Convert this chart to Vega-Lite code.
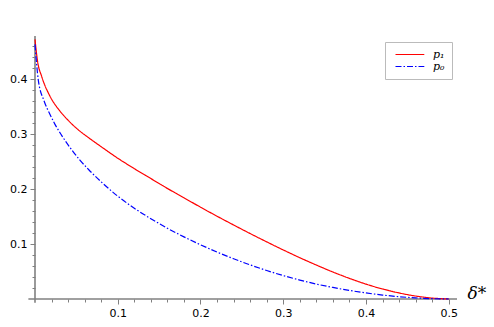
{
  "$schema": "https://vega.github.io/schema/vega-lite/v6.json",
  "width": 422,
  "height": 264,
  "autosize": "none",
  "padding": {"left": 35, "top": 35, "right": 37, "bottom": 28},
  "background": "white",
  "config": {
    "view": {"stroke": null},
    "legend": {
      "orient": "none", "legendX": 350, "legendY": 7,
      "symbolType": "M-3.6,0H3.6", "symbolSize": 64, "symbolStrokeWidth": 1.2, "symbolOffset": 12.4,
      "strokeColor": "#bbbbbb", "fillColor": "#ffffff", "padding": 7,
      "labelFont": "DejaVu Serif", "labelFontStyle": "italic", "labelFontSize": 11,
      "labelColor": "#000000", "rowPadding": 0, "labelOffset": 17.6
    },
    "axis": {
      "domain": false, "grid": false,
      "labelFont": "DejaVu Sans", "labelFontSize": 11, "labelColor": "#000000",
      "labelPadding": 3, "labelOverlap": false, "labelFlush": false,
      "tickColor": "#808080", "tickWidth": 1
    }
  },
  "resolve": {"axis": {"x": "independent", "y": "independent"}},
  "data": {"values": [
    {"x": 0.000, "y": 0.472, "series": "p₁"},
    {"x": 0.003, "y": 0.433, "series": "p₁"},
    {"x": 0.008, "y": 0.405, "series": "p₁"},
    {"x": 0.018, "y": 0.369, "series": "p₁"},
    {"x": 0.030, "y": 0.342, "series": "p₁"},
    {"x": 0.040, "y": 0.325, "series": "p₁"},
    {"x": 0.052, "y": 0.308, "series": "p₁"},
    {"x": 0.065, "y": 0.293, "series": "p₁"},
    {"x": 0.078, "y": 0.279, "series": "p₁"},
    {"x": 0.100, "y": 0.256, "series": "p₁"},
    {"x": 0.120, "y": 0.237, "series": "p₁"},
    {"x": 0.140, "y": 0.219, "series": "p₁"},
    {"x": 0.160, "y": 0.201, "series": "p₁"},
    {"x": 0.180, "y": 0.184, "series": "p₁"},
    {"x": 0.200, "y": 0.167, "series": "p₁"},
    {"x": 0.220, "y": 0.1505, "series": "p₁"},
    {"x": 0.240, "y": 0.1346, "series": "p₁"},
    {"x": 0.260, "y": 0.119, "series": "p₁"},
    {"x": 0.280, "y": 0.1039, "series": "p₁"},
    {"x": 0.300, "y": 0.0892, "series": "p₁"},
    {"x": 0.320, "y": 0.0751, "series": "p₁"},
    {"x": 0.340, "y": 0.0617, "series": "p₁"},
    {"x": 0.360, "y": 0.0491, "series": "p₁"},
    {"x": 0.380, "y": 0.0375, "series": "p₁"},
    {"x": 0.400, "y": 0.0271, "series": "p₁"},
    {"x": 0.420, "y": 0.0182, "series": "p₁"},
    {"x": 0.440, "y": 0.011, "series": "p₁"},
    {"x": 0.460, "y": 0.0054, "series": "p₁"},
    {"x": 0.480, "y": 0.0017, "series": "p₁"},
    {"x": 0.500, "y": 0.000, "series": "p₁"},
    {"x": 0.000, "y": 0.463, "series": "p₀"},
    {"x": 0.004, "y": 0.398, "series": "p₀"},
    {"x": 0.011, "y": 0.360, "series": "p₀"},
    {"x": 0.018, "y": 0.336, "series": "p₀"},
    {"x": 0.024, "y": 0.318, "series": "p₀"},
    {"x": 0.032, "y": 0.298, "series": "p₀"},
    {"x": 0.046, "y": 0.268, "series": "p₀"},
    {"x": 0.054, "y": 0.253, "series": "p₀"},
    {"x": 0.065, "y": 0.235, "series": "p₀"},
    {"x": 0.080, "y": 0.213, "series": "p₀"},
    {"x": 0.100, "y": 0.187, "series": "p₀"},
    {"x": 0.120, "y": 0.165, "series": "p₀"},
    {"x": 0.140, "y": 0.146, "series": "p₀"},
    {"x": 0.160, "y": 0.1286, "series": "p₀"},
    {"x": 0.180, "y": 0.113, "series": "p₀"},
    {"x": 0.200, "y": 0.0986, "series": "p₀"},
    {"x": 0.220, "y": 0.0854, "series": "p₀"},
    {"x": 0.240, "y": 0.0732, "series": "p₀"},
    {"x": 0.260, "y": 0.062, "series": "p₀"},
    {"x": 0.280, "y": 0.0518, "series": "p₀"},
    {"x": 0.300, "y": 0.0426, "series": "p₀"},
    {"x": 0.320, "y": 0.0344, "series": "p₀"},
    {"x": 0.340, "y": 0.0272, "series": "p₀"},
    {"x": 0.360, "y": 0.021, "series": "p₀"},
    {"x": 0.380, "y": 0.0156, "series": "p₀"},
    {"x": 0.400, "y": 0.011, "series": "p₀"},
    {"x": 0.420, "y": 0.0072, "series": "p₀"},
    {"x": 0.440, "y": 0.0042, "series": "p₀"},
    {"x": 0.460, "y": 0.002, "series": "p₀"},
    {"x": 0.480, "y": 0.0006, "series": "p₀"},
    {"x": 0.500, "y": 0.000, "series": "p₀"}
  ]},
  "layer": [
    {
      "data": {"values": [{}]},
      "mark": {"type": "rule", "color": "#808080", "strokeWidth": 1.6},
      "encoding": {
        "x": {"datum": -0.008, "type": "quantitative",
          "axis": {
            "orient": "bottom", "labels": false, "tickSize": 3, "title": null,
            "values": [0.02,0.04,0.06,0.08,0.12,0.14,0.16,0.18,0.22,0.24,0.26,0.28,0.32,0.34,0.36,0.38,0.42,0.44,0.46,0.48]
          }
        },
        "x2": {"datum": 0.51},
        "y": {"datum": 0, "type": "quantitative", "axis": null}
      }
    },
    {
      "data": {"values": [{}]},
      "mark": {"type": "rule", "color": "#808080", "strokeWidth": 1.6},
      "encoding": {
        "y": {"datum": -0.007, "type": "quantitative",
          "axis": {
            "orient": "left", "labels": false, "tickSize": 3, "title": null,
            "values": [0.02,0.04,0.06,0.08,0.12,0.14,0.16,0.18,0.22,0.24,0.26,0.28,0.32,0.34,0.36,0.38,0.42,0.44,0.46]
          }
        },
        "y2": {"datum": 0.478},
        "x": {"datum": 0, "type": "quantitative", "axis": null}
      }
    },
    {
      "mark": {"type": "line", "strokeWidth": 1.2, "interpolate": "monotone"},
      "encoding": {
        "x": {
          "field": "x", "type": "quantitative",
          "scale": {"domain": [0, 0.51], "nice": false, "zero": false},
          "axis": {
            "orient": "bottom",
            "values": [0.1, 0.2, 0.3, 0.4, 0.5],
            "format": ".1f", "tickSize": 5,
            "title": "δ*", "titleFont": "DejaVu Serif", "titleFontStyle": "italic", "titleFontWeight": "normal",
            "titleFontSize": 17, "titleColor": "#000000",
            "titleX": 432, "titleY": -1, "titleAlign": "left", "titleBaseline": "alphabetic", "titleAnchor": null
          }
        },
        "y": {
          "field": "y", "type": "quantitative",
          "scale": {"domain": [0, 0.48], "nice": false, "zero": false},
          "axis": {
            "orient": "left",
            "values": [0.1, 0.2, 0.3, 0.4],
            "format": ".1f", "tickSize": 5,
            "title": null
          }
        },
        "color": {
          "field": "series", "type": "nominal", "title": null,
          "scale": {"domain": ["p₁", "p₀"], "range": ["#ff0000", "#0000ff"]}
        },
        "strokeDash": {
          "field": "series", "type": "nominal", "title": null,
          "scale": {"domain": ["p₁", "p₀"], "range": [[1, 0], [6, 2, 1.5, 2]]}
        }
      }
    }
  ]
}
